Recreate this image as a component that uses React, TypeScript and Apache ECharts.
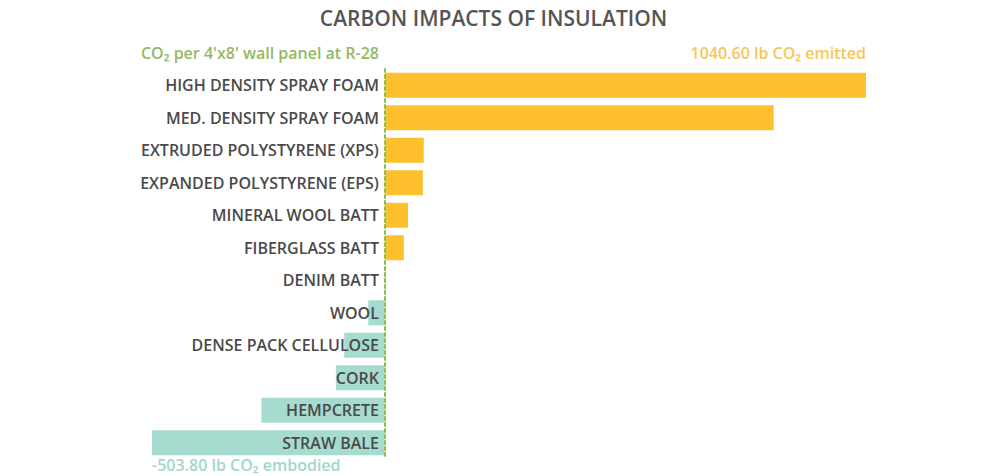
import React, { useEffect, useRef } from "react";
import * as echarts from "echarts";

const categories = [
  "HIGH DENSITY SPRAY FOAM",
  "MED. DENSITY SPRAY FOAM",
  "EXTRUDED POLYSTYRENE (XPS)",
  "EXPANDED POLYSTYRENE (EPS)",
  "MINERAL WOOL BATT",
  "FIBERGLASS BATT",
  "DENIM BATT",
  "WOOL",
  "DENSE PACK CELLULOSE",
  "CORK",
  "HEMPCRETE",
  "STRAW BALE",
];
const values = [1040.6, 841, 84, 82, 50, 41, 2, -36, -88, -106, -267, -503.8];
const maxLabel = "1040.60 lb CO₂ emitted";
const minLabel = "-503.80 lb CO₂ embodied";
const unitLabel = "CO₂ per 4'x8' wall panel at R-28";
const title = "CARBON IMPACTS OF INSULATION";

const FONT = "'Open Sans', 'Noto Sans', sans-serif";

export default function App() {
  const ref = useRef<HTMLDivElement>(null);
  useEffect(() => {
    if (!ref.current) return;
    const chart = echarts.init(ref.current, undefined, { renderer: "svg" });
    chart.setOption({
      animation: false,
      backgroundColor: "#ffffff",
      title: {
        text: title,
        left: "center",
        top: 2,
        textStyle: { fontFamily: FONT, fontSize: 21, fontWeight: 600, color: "#555555" },
      },
      grid: { left: 152, right: 121, top: 69, bottom: 17, outerBoundsMode: "none", containLabel: false },
      xAxis: {
        type: "value",
        min: -503.8,
        max: 1040.6,
        show: false,
        splitLine: { show: false },
      },
      yAxis: {
        type: "category",
        data: categories,
        inverse: true,
        z: 10,
        axisLine: {
          show: true,
          onZero: true,
          lineStyle: { color: "#8fba55", type: [3, 3], width: 2 },
        },
        axisTick: { show: false },
        axisLabel: { show: false },
      },
      series: [
        {
          type: "bar",
          data: values.map((v) => ({
            value: v,
            itemStyle: { color: v >= 0 ? "#fcc12d" : "#a6dbcf" },
            label: {
              show: true,
              position: v >= 0 ? "left" : "insideRight",
              distance: 6,
              formatter: "{b}",
              fontFamily: FONT,
              fontSize: 16,
              fontWeight: 600,
              color: "#4a4a4a",
            },
          })),
          barWidth: 25,
          z: 2,
        },
      ],
      graphic: [
        {
          type: "text",
          right: 987 - 379,
          top: 45,
          style: { text: unitLabel, font: `600 16px ${FONT}`, fill: "#93b866" },
        },
        {
          type: "text",
          right: 987 - 866,
          top: 45,
          style: { text: maxLabel, font: `600 16px ${FONT}`, fill: "#f7c65a" },
        },
        {
          type: "text",
          left: 152,
          top: 457,
          style: { text: minLabel, font: `600 16px ${FONT}`, fill: "#a3d6ca" },
        },
      ],
    });
    return () => chart.dispose();
  }, []);
  return <div ref={ref} style={{ width: 987, height: 476, position: "absolute", left: 0, top: 0 }} />;
}
